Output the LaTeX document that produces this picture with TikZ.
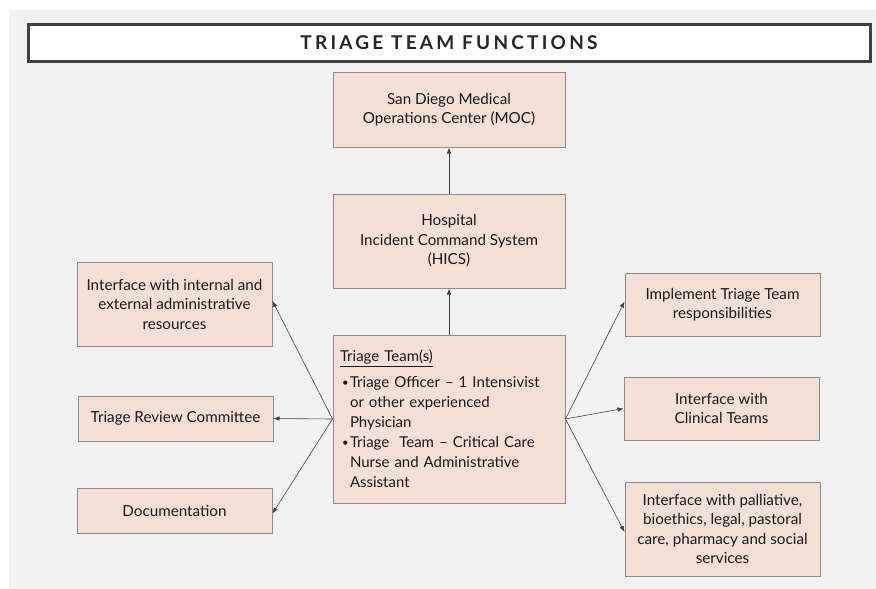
\documentclass[tikz,border=0pt]{standalone}
\usepackage{fontspec}
\setmainfont{Lato}
\newfontfamily\titlefont[LetterSpace=17]{Lato}
\usetikzlibrary{arrows.meta}
\definecolor{bggray}{HTML}{F2F2F2}
\definecolor{boxfill}{HTML}{F4E0D6}
\definecolor{boxline}{HTML}{8C8C8C}
\definecolor{dark}{HTML}{404040}
\newcommand{\tbul}{\hspace*{2pt}\makebox[8pt][l]{\raisebox{1pt}{\scalebox{0.75}{\textbullet}}}}
\newcommand{\tind}{\hspace*{10pt}}
\begin{document}
\begin{tikzpicture}[x=1pt,y=-1pt,
  box/.style={draw=boxline, line width=1pt, fill=boxfill, align=center,
    font=\fontsize{15.2}{19.5}\selectfont, text=black!90, inner sep=2pt},
  conn/.style={draw=dark, line width=0.6pt, -{Latex[length=6pt,width=4.5pt]}}]
\useasboundingbox (0,0) rectangle (876,589);
\fill[bggray] (9,10) rectangle (876,589);
\node[draw=dark, line width=3pt, fill=white, minimum width=842, minimum height=37,
  font=\titlefont\bfseries\fontsize{19}{22}\selectfont, text=black!85] (title) at (449,42.5) {TRIAGE TEAM FUNCTIONS};
\node[box, minimum width=232, minimum height=75] (moc) at (449,109.5) {San Diego Medical\\Operations Center (MOC)};
\node[box, minimum width=232, minimum height=94] (hics) at (449,241) {Hospital\\Incident Command System\\(HICS)};
\node[box, minimum width=232, minimum height=168, text width=218, align=left, inner sep=7pt, font=\fontsize{15}{20}\selectfont] (team) at (449,419)
  {\underline{Triage Team(s)}\\[6pt]
   \tbul Triage Officer -- 1 Intensivist\\
   \tind or other experienced\\
   \tind Physician\\
   \tbul Triage\ \ Team -- Critical Care\\
   \tind Nurse and Administrative\\
   \tind Assistant};
\node[box, minimum width=195, minimum height=84] (l1) at (174.5,304) {Interface with internal and\\external administrative\\resources};
\node[box, minimum width=195, minimum height=45] (l2) at (175.5,418.5) {Triage Review Committee};
\node[box, minimum width=195, minimum height=45] (l3) at (174.5,510.5) {Documentation};
\node[box, minimum width=195, minimum height=63] (r1) at (722.5,304.5) {Implement Triage Team\\responsibilities};
\node[box, minimum width=195, minimum height=63] (r2) at (721.5,408.5) {Interface with\\Clinical Teams};
\node[box, minimum width=195, minimum height=94] (r3) at (722.5,529) {Interface with palliative,\\bioethics, legal, pastoral\\care, pharmacy and social\\services};
\draw[conn] (hics.north) -- (moc.south);
\draw[conn] (team.north) -- (hics.south);
\draw[conn] (team.west) -- ([yshift=3pt]l1.east);
\draw[conn] (team.west) -- (l2.east);
\draw[conn] (team.west) -- ([yshift=-3pt]l3.east);
\draw[conn] (team.east) -- ([yshift=3pt]r1.west);
\draw[conn] (team.east) -- (r2.west);
\draw[conn] (team.east) -- ([yshift=-3pt]r3.west);
\end{tikzpicture}
\end{document}
